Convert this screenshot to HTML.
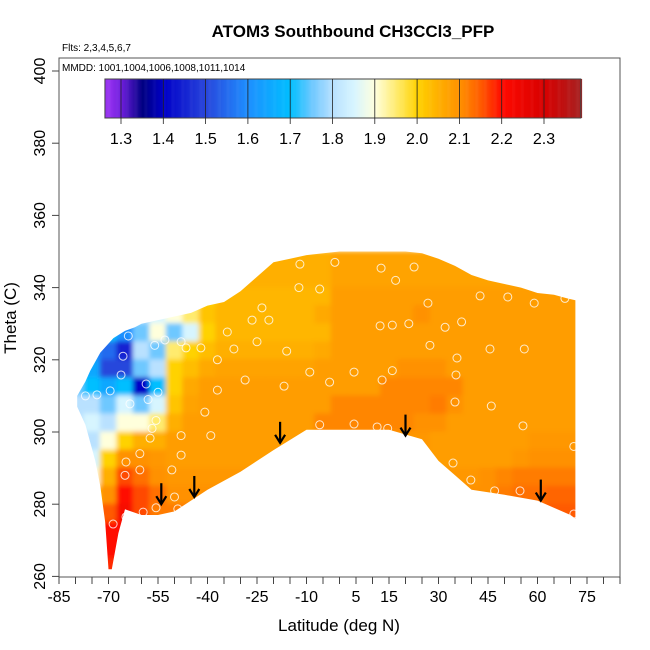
<!DOCTYPE html>
<html><head><meta charset="utf-8"><style>
html,body{margin:0;padding:0;background:#fff;}
svg{display:block;font-family:"Liberation Sans",sans-serif;}
</style></head><body>
<svg id="chart" width="650" height="650" viewBox="0 0 650 650">
<defs>
<filter id="blur" x="-5%" y="-5%" width="110%" height="110%"><feGaussianBlur stdDeviation="2.5"/></filter>
<clipPath id="regionClip"><path id="regionPath" d=""/></clipPath>
</defs>
<text x="353" y="37" text-anchor="middle" font-size="17" font-weight="bold">ATOM3 Southbound CH3CCl3_PFP</text>
<text x="62" y="51" font-size="10">Flts: 2,3,4,5,6,7</text>
<g id="field" clip-path="url(#regionClip)"><g id="cells" filter="url(#blur)"></g></g>
<g id="points"></g>
<g id="arrows"></g>
<rect x="59" y="58" width="561" height="519" fill="none" stroke="#555" stroke-width="1"/>
<text x="62" y="71" font-size="10">MMDD: 1001,1004,1006,1008,1011,1014</text>
<g id="cbar"></g>
<g id="xaxis"></g>
<g id="yaxis"></g>
<text x="339" y="631" text-anchor="middle" font-size="17">Latitude (deg N)</text>
<text transform="translate(16,318) rotate(-90)" text-anchor="middle" font-size="17">Theta (C)</text>
</svg>
<script>
const gridLats=[-80,-75,-70,-65,-60,-55,-50,-45,-40,-35,-30,-25,-20,-15,-10,-5,0,5,10,15,20,25,30,35,40,45,50,55,60,65,70];
const gridThetas=[347.5,342.5,337.5,332.5,327.5,322.5,317.5,312.5,307.5,302.5,297.5,292.5,287.5,282.5,277.5,272.5,267.5,262.5];
const gridValues=[
[1.8,2.07,2.07,2.07,2.07,2.07,2.07,2.07,2.07,2.07,2.05,2.05,2.05,2.05,2.05,2.05,2.07,2.07,2.07,2.07,2.07,2.07,2.07,2.07,2.07,2.07,2.07,2.07,2.07,2.07,2.07],
[1.8,2.07,2.07,2.07,2.07,2.07,2.07,2.07,2.07,2.07,2.05,2.05,2.05,2.05,2.05,2.05,2.07,2.07,2.07,2.07,2.07,2.07,2.07,2.07,2.07,2.07,2.07,2.07,2.07,2.07,2.07],
[1.8,1.8,1.8,1.8,1.8,1.85,1.95,2.0,2.0,2.04,2.04,2.04,2.04,2.04,2.04,2.04,2.08,2.08,2.08,2.08,2.08,2.08,2.08,2.08,2.08,2.08,2.08,2.08,2.08,2.08,2.08],
[1.75,1.75,1.75,1.72,1.8,1.85,1.9,1.95,2.02,2.04,2.04,2.04,2.04,2.04,2.04,2.06,2.08,2.08,2.08,2.08,2.08,2.1,2.08,2.08,2.08,2.08,2.08,2.08,2.08,2.08,2.08],
[1.7,1.7,1.7,1.6,1.75,1.9,1.75,1.85,2.0,2.04,2.04,2.04,2.04,2.04,2.04,2.04,2.08,2.08,2.08,2.08,2.08,2.08,2.08,2.08,2.08,2.08,2.08,2.08,2.08,2.08,2.08],
[1.65,1.6,1.55,1.45,1.8,1.75,1.95,2.0,2.03,2.05,2.05,2.05,2.05,2.05,2.05,2.06,2.08,2.08,2.08,2.08,2.08,2.08,2.08,2.08,2.08,2.08,2.08,2.08,2.08,2.08,2.08],
[1.7,1.65,1.5,1.5,1.75,1.8,2.0,2.03,2.06,2.07,2.07,2.07,2.07,2.07,2.07,2.08,2.08,2.08,2.08,2.08,2.1,2.1,2.1,2.08,2.08,2.08,2.08,2.08,2.08,2.08,2.08],
[1.75,1.7,1.65,1.7,1.4,1.7,2.0,2.06,2.08,2.08,2.08,2.08,2.08,2.08,2.08,2.08,2.08,2.08,2.08,2.11,2.11,2.11,2.11,2.11,2.08,2.08,2.08,2.08,2.08,2.08,2.08],
[1.8,1.8,1.75,1.85,1.75,1.85,2.02,2.07,2.08,2.08,2.08,2.08,2.08,2.08,2.08,2.08,2.11,2.11,2.11,2.11,2.11,2.11,2.12,2.1,2.08,2.08,2.08,2.08,2.08,2.08,2.08],
[1.8,1.85,1.8,1.9,1.9,1.95,2.05,2.08,2.08,2.08,2.08,2.08,2.08,2.08,2.08,2.11,2.11,2.11,2.11,2.11,2.11,2.1,2.1,2.08,2.08,2.08,2.08,2.08,2.08,2.08,2.08],
[1.8,1.8,1.9,2.0,2.05,2.05,2.08,2.08,2.08,2.08,2.08,2.08,2.08,2.08,2.08,2.09,2.09,2.09,2.09,2.09,2.09,2.09,2.08,2.08,2.08,2.08,2.08,2.08,2.09,2.09,2.09],
[1.85,1.85,2.0,2.1,2.1,2.09,2.08,2.08,2.08,2.08,2.08,2.08,2.08,2.08,2.08,2.08,2.08,2.08,2.08,2.08,2.08,2.08,2.08,2.08,2.08,2.08,2.08,2.09,2.1,2.1,2.1],
[1.9,1.9,2.05,2.16,2.13,2.1,2.09,2.09,2.09,2.09,2.09,2.09,2.09,2.09,2.09,2.09,2.09,2.09,2.09,2.09,2.09,2.09,2.09,2.09,2.09,2.1,2.11,2.12,2.12,2.12,2.12],
[2.0,2.0,2.1,2.2,2.16,2.13,2.1,2.1,2.1,2.1,2.1,2.1,2.1,2.1,2.1,2.1,2.1,2.1,2.1,2.1,2.1,2.1,2.1,2.1,2.1,2.1,2.12,2.13,2.13,2.14,2.14],
[2.1,2.1,2.15,2.22,2.16,2.12,2.12,2.12,2.12,2.12,2.12,2.12,2.12,2.12,2.12,2.12,2.12,2.12,2.12,2.12,2.12,2.12,2.12,2.12,2.12,2.12,2.12,2.14,2.14,2.15,2.15],
[2.15,2.15,2.2,2.2,2.15,2.12,2.12,2.12,2.12,2.12,2.12,2.12,2.12,2.12,2.12,2.12,2.12,2.12,2.12,2.12,2.12,2.12,2.12,2.12,2.12,2.12,2.12,2.14,2.14,2.15,2.15],
[2.15,2.15,2.2,2.2,2.15,2.12,2.12,2.12,2.12,2.12,2.12,2.12,2.12,2.12,2.12,2.12,2.12,2.12,2.12,2.12,2.12,2.12,2.12,2.12,2.12,2.12,2.12,2.14,2.14,2.15,2.15],
[2.15,2.15,2.18,2.2,2.15,2.12,2.12,2.12,2.12,2.12,2.12,2.12,2.12,2.12,2.12,2.12,2.12,2.12,2.12,2.12,2.12,2.12,2.12,2.12,2.12,2.12,2.12,2.14,2.14,2.15,2.15]
];
const topLats=[-79.5,-77,-75.5,-72.5,-68.5,-65,-62,-60,-55,-50,-45,-40,-35,-30,-25,-20,-15,-10,0,10,20,25,30,35,40,45,50,55,60,65,69,71.5];
const topThetas=[310,314,317,322,326,328,329,330,331,332,333,335,336,339,343,347,348,349,350,350,350,349.5,348,346,343.5,342,341,340,338.5,338,337,336.5];
const botLats=[71.5,70,60,50,40,35,30,25,15,0,-10,-20,-30,-40,-45,-50,-55,-60,-65,-67,-69,-70,-71,-72.5,-74,-77,-79.5];
const botThetas=[276,277,281,282.6,284,288,292,298,300.6,300.6,300.6,295,289,284,281,278,277,277,278.6,272,262,262,275,285,292,302,307];
const pointLats=[-12,-1.4,12.6,17,22.6,-12.3,-6,-23.5,-26.5,-21.4,-34,-25,-16,-32,12.3,16,21,32,37,26.8,42.6,51,59,68.3,27.4,35.6,45.6,56,-37,-28.6,-16.8,-9,4.4,-3,12.9,16,35.3,35,46,-37,-40.8,-39,-48,-48,-50.8,-6,4.4,11.4,14.6,34.4,39.8,47,54.7,55.6,71,71,-64.7,-60.5,-68.6,-66,-55.6,-50,-49,-59.5,-64.7,-65,-60.5,-57.4,-60.5,-56.8,-55.6,-58,-55,-63.5,-58.6,-65.6,-56,-52.9,-48,-46.5,-42,-66.2,-69.5,-73.5,-64,-77];
const pointThetas=[346.5,347,345.4,342,345.7,340,339.6,334.4,331,331,327.7,325,322.4,323,329.4,329.6,330,329,330.5,335.7,337.7,337.4,335.7,337,324,320.5,323,323,320,314.4,312.7,316.6,316.6,313.8,314.4,317,315.8,308.3,307.2,311.6,305.5,299,299,293.6,289.5,302,302.2,301.4,301,291.4,286.7,283.7,283.7,301.7,296,277.3,276.5,274.2,274.5,266.5,279,282,278.7,277.8,291.7,288,289.5,298.3,294,301,303.2,309,311,307.8,313.3,321,324,325.5,325,323.3,323.3,315.8,311.4,310.3,326.6,310];
const arrowLats=[-54,-44,-18,20,61];
const arrowThetas=[280,282,297,299,281];
const xTicks=[-85,-80,-75,-70,-65,-60,-55,-50,-45,-40,-35,-30,-25,-20,-15,-10,-5,0,5,10,15,20,25,30,35,40,45,50,55,60,65,70,75,80,85];
const xLabels=[-85,-70,-55,-40,-25,-10,5,15,30,45,60,75];
const yTicks=[260,280,300,320,340,360,380,400];
const cbarTicks=[1.3,1.4,1.5,1.6,1.7,1.8,1.9,2.0,2.1,2.2,2.3];

const NS='http://www.w3.org/2000/svg';
const X=lat=>59+(lat+85)*3.3;
const Y=th=>71+(400-th)*3.61;
function mk(tag,attrs,parent){const e=document.createElementNS(NS,tag);for(const k in attrs)e.setAttribute(k,attrs[k]);parent.appendChild(e);return e;}
const stops=[[1.27,[150,50,240]],[1.3,[110,30,220]],[1.35,[0,0,130]],[1.4,[0,0,200]],[1.5,[40,70,220]],[1.6,[30,144,255]],[1.7,[0,191,255]],[1.75,[110,200,255]],[1.8,[185,225,255]],[1.85,[215,245,255]],[1.9,[255,255,220]],[1.95,[255,235,110]],[2.0,[255,210,0]],[2.05,[255,175,0]],[2.1,[255,145,0]],[2.15,[255,90,0]],[2.2,[255,10,0]],[2.3,[215,0,0]],[2.39,[165,35,35]]];
function col(v){if(v<=stops[0][0])return 'rgb('+stops[0][1]+')';for(let i=1;i<stops.length;i++){if(v<=stops[i][0]){const a=stops[i-1],b=stops[i],t=(v-a[0])/(b[0]-a[0]);return 'rgb('+a[1].map((c,j)=>Math.round(c+(b[1][j]-c)*t)).join(',')+')';}}return 'rgb('+stops[stops.length-1][1]+')';}

let d='';
topLats.forEach((l,i)=>{d+=(i?'L':'M')+X(l).toFixed(1)+','+Y(topThetas[i]).toFixed(1);});
botLats.forEach((l,i)=>{d+='L'+X(l).toFixed(1)+','+Y(botThetas[i]).toFixed(1);});
document.getElementById('regionPath').setAttribute('d',d+'Z');

const cells=document.getElementById('cells');
gridThetas.forEach((th,r)=>{gridLats.forEach((lat,c)=>{
  const x0=X(lat-2.5),x1=X(lat+2.5),y0=Y(th+2.5),y1=Y(th-2.5);
  const e=mk('rect',{x:x0-0.5,y:y0-0.5,width:x1-x0+1,height:y1-y0+1,fill:col(gridValues[r][c])},cells);
  
  
});});

const pts=document.getElementById('points');
pointLats.forEach((lat,i)=>{
  const e=mk('circle',{cx:X(lat),cy:Y(pointThetas[i]),r:4,fill:'none',stroke:'#fff','stroke-opacity':0.8,'stroke-width':1},pts);
  
  
});

const arr=document.getElementById('arrows');
arrowLats.forEach((lat,i)=>{
  const x=X(lat),yb=Y(arrowThetas[i]);
  const g=mk('g',{},arr);
  
  
  mk('line',{x1:x,y1:yb-21,x2:x,y2:yb,stroke:'#000','stroke-width':2.2},g);
  mk('polyline',{points:(x-5)+','+(yb-8)+' '+x+','+yb+' '+(x+5)+','+(yb-8),fill:'none',stroke:'#000','stroke-width':2.2},g);
});

const cb=document.getElementById('cbar');
const cbX=v=>121+(v-1.3)*423;
const v0=1.262,v1=2.387;
for(let v=v0;v<v1;v+=0.0025){
  const e=mk('rect',{x:cbX(v),y:79,width:1.3,height:39,fill:col(v)},cb);
  
  
}
mk('rect',{x:cbX(v0),y:79,width:cbX(v1)-cbX(v0),height:39,fill:'none',stroke:'#444','stroke-width':1},cb);
cbarTicks.forEach(t=>{
  const e=mk('line',{x1:cbX(t),y1:79,x2:cbX(t),y2:124,stroke:'#222','stroke-width':0.8},cb);
  
  
  const tx=mk('text',{x:cbX(t),y:144,'text-anchor':'middle','font-size':16},cb);
  tx.textContent=t.toFixed(1);
  
  
});

const xa=document.getElementById('xaxis');
xTicks.forEach(t=>{
  const e=mk('line',{x1:X(t),y1:577,x2:X(t),y2:584,stroke:'#444'},xa);
  
  
});
xLabels.forEach(t=>{
  const e=mk('text',{x:X(t),y:602,'text-anchor':'middle','font-size':16},xa);
  e.textContent=String(t);
  
  
});
const ya=document.getElementById('yaxis');
yTicks.forEach(t=>{
  const e=mk('line',{x1:52,y1:Y(t),x2:59,y2:Y(t),stroke:'#444'},ya);
  
  
  const tx=mk('text',{'text-anchor':'middle','font-size':16,transform:'translate(45,'+Y(t)+') rotate(-90)'},ya);
  tx.textContent=String(t);
  
  
});
</script>
</body></html>
